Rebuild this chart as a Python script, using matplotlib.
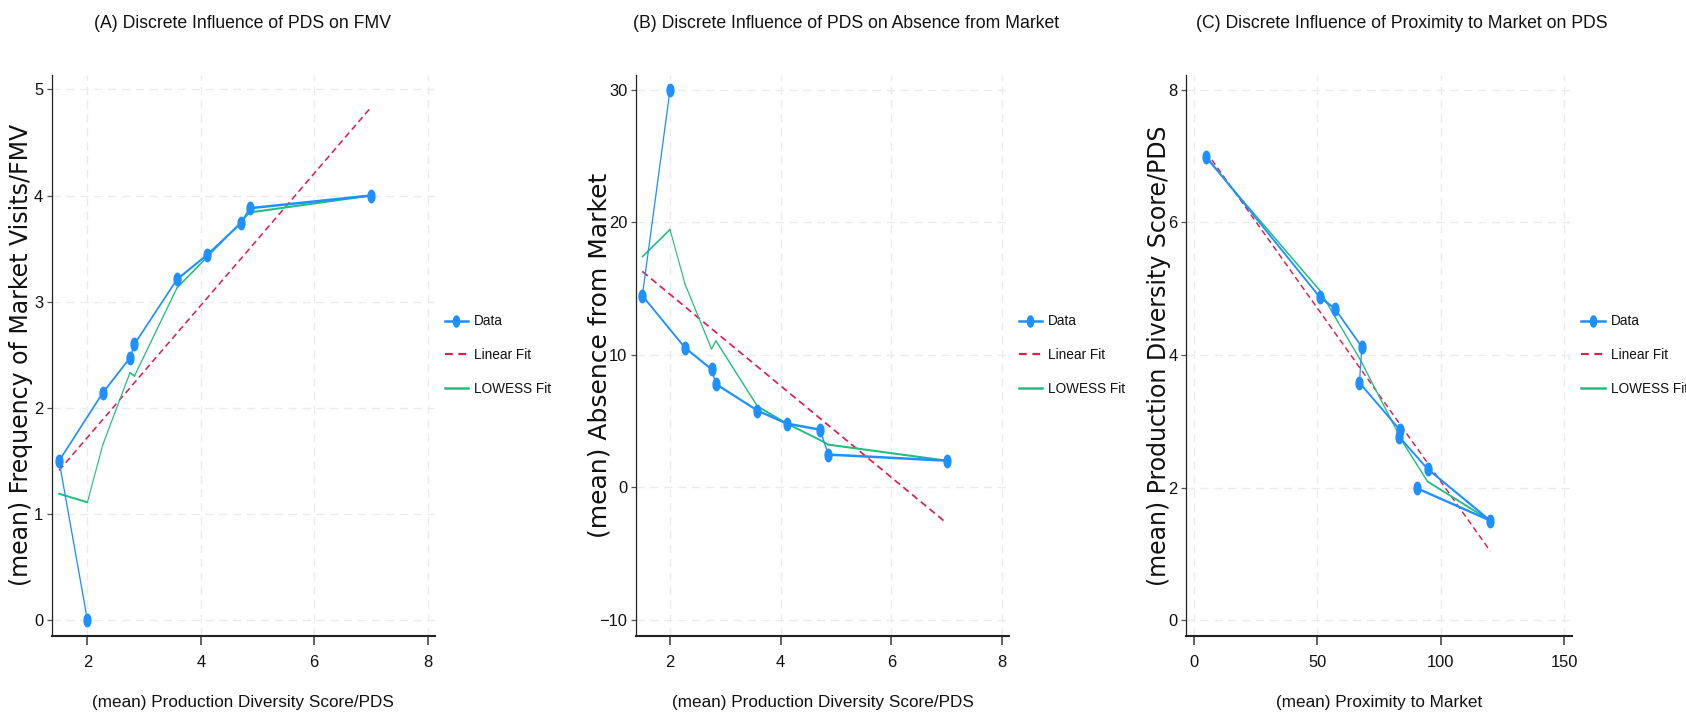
import matplotlib
matplotlib.use("Agg")
import matplotlib.pyplot as plt
import numpy as np
from matplotlib import font_manager
from matplotlib.collections import LineCollection
from matplotlib.lines import Line2D

# (A) PDS -> FMV, points in the order they are joined
pds_a = [2.0, 1.5, 2.27, 2.75, 2.83, 3.58, 4.11, 4.71, 4.86, 7.0]
fmv_a = [0.0, 1.5, 2.14, 2.47, 2.60, 3.21, 3.44, 3.74, 3.88, 4.0]
lowess_x_a = [1.5, 2.0, 2.27, 2.75, 2.83, 3.58, 4.11, 4.71, 4.86, 7.0]
lowess_y_a = [1.19, 1.11, 1.65, 2.33, 2.30, 3.13, 3.42, 3.75, 3.84, 4.0]
linfit_x_a = [1.5, 7.0]
linfit_y_a = [1.41, 4.83]

# (B) PDS -> absence from market
pds_b = [2.0, 1.5, 2.27, 2.75, 2.83, 3.58, 4.11, 4.71, 4.86, 7.0]
absence_b = [30.0, 14.47, 10.54, 8.92, 7.80, 5.80, 4.82, 4.36, 2.48, 2.02]
lowess_x_b = [1.5, 2.0, 2.27, 2.75, 2.83, 3.58, 4.11, 4.71, 4.86, 7.0]
lowess_y_b = [17.41, 19.46, 15.36, 10.45, 11.06, 6.12, 4.82, 3.58, 3.23, 2.02]
linfit_x_b = [1.5, 7.0]
linfit_y_b = [16.3, -2.7]

# (C) proximity -> PDS
prox_c = [5.0, 51.0, 57.0, 68.0, 67.0, 83.6, 83.2, 94.6, 120.0, 90.2]
pds_c = [6.99, 4.87, 4.70, 4.12, 3.58, 2.86, 2.76, 2.28, 1.50, 1.99]
lowess_x_c = [5.0, 51.0, 57.0, 67.0, 68.0, 83.2, 83.6, 90.2, 94.6, 120.0]
lowess_y_c = [6.97, 4.97, 4.58, 3.95, 3.88, 2.78, 2.74, 2.35, 2.09, 1.50]
linfit_x_c = [5.0, 120.0]
linfit_y_c = [7.06, 1.04]

titles = ["(A) Discrete Influence of PDS on FMV",
          "(B) Discrete Influence of PDS on Absence from Market",
          "(C) Discrete Influence of Proximity to Market on PDS"]
xlabels = ["(mean) Production Diversity Score/PDS",
           "(mean) Production Diversity Score/PDS",
           "(mean) Proximity to Market"]
ylabels = ["(mean) Frequency of Market Visits/FMV",
           "(mean) Absence from Market",
           "(mean) Production Diversity Score/PDS"]
legend_labels = ["Data", "Linear Fit", "LOWESS Fit"]

BLUE = "#1E90FF"
RED = "#DC1F52"
GREEN = "#1FBF7F"
SQ = 0.5  # the reference looks squeezed sideways; steep lines come out thinner

installed = {f.name for f in font_manager.fontManager.ttflist}
if "Liberation Sans Narrow" in installed:
    NARROW, k = "Liberation Sans Narrow", 1.0
else:
    NARROW, k = "Liberation Sans", 0.82

th = np.linspace(0, 2 * np.pi, 41)
ELL = np.column_stack([0.55 * np.cos(th), np.sin(th)])


def squeezed(ax, x, y, color, lw, ls="-", z=2):
    x = np.asarray(x, float)
    y = np.asarray(y, float)
    pts = ax.transData.transform(np.column_stack([x, y]))
    d = np.diff(pts, axis=0)
    dx = np.where(np.abs(d[:, 0]) < 1e-9, 1e-9, d[:, 0])
    t2 = (d[:, 1] / dx) ** 2
    widths = lw * np.sqrt((1 + SQ ** 2 * t2) / (1 + t2))
    segs = np.stack([np.column_stack([x[:-1], y[:-1]]),
                     np.column_stack([x[1:], y[1:]])], axis=1)
    cap = "round" if ls == "-" else "butt"
    ax.add_collection(LineCollection(segs, colors=color, linewidths=widths,
                                     linestyles=ls, capstyle=cap, zorder=z))


fig = plt.figure(figsize=(16.86, 7.22), dpi=100)
W, H = 1686.0, 722.0

# pixel boxes: left, right ; top/bottom shared
boxes = [(51.7, 435.0), (635.7, 1009.3), (1186.3, 1571.8)]
top, bottom = 74.5, 636.0
xlims = [(1.37, 8.13), (1.38, 8.13), (-3.1, 153.0)]
ylims = [(-0.15, 5.14), (-11.21, 31.16), (-0.24, 8.23)]
xticks = [[2, 4, 6, 8], [2, 4, 6, 8], [0, 50, 100, 150]]
yticks = [[0, 1, 2, 3, 4, 5], [-10, 0, 10, 20, 30], [0, 2, 4, 6, 8]]
ylab_x = [21.5, 599.5, 1159.0]
ylab_size = [17.0, 18.0, 17.0]
title_x = [242.0, 846.0, 1402.0]

panels = [
    (pds_a, fmv_a, lowess_x_a, lowess_y_a, linfit_x_a, linfit_y_a),
    (pds_b, absence_b, lowess_x_b, lowess_y_b, linfit_x_b, linfit_y_b),
    (prox_c, pds_c, lowess_x_c, lowess_y_c, linfit_x_c, linfit_y_c),
]

for i, (dx, dy, lx, ly, fx, fy) in enumerate(panels):
    l, r = boxes[i]
    ax = fig.add_axes([l / W, 1 - bottom / H, (r - l) / W, (bottom - top) / H])
    ax.set_xlim(*xlims[i])
    ax.set_ylim(*ylims[i])
    ax.set_xticks(xticks[i])
    ax.set_yticks(yticks[i])
    ax.grid(True, color="#ebebeb", ls=(0, (6, 4)), lw=1.0, zorder=0)
    ax.set_axisbelow(True)
    for s in ["top", "right"]:
        ax.spines[s].set_visible(False)
    ax.spines["bottom"].set_linewidth(1.5)
    ax.spines["left"].set_linewidth(0.9)
    ax.spines["bottom"].set_color("#222222")
    ax.spines["left"].set_color("#222222")
    ax.tick_params(axis="x", length=6.5, width=1.3, color="#555555", pad=7,
                   labelsize=14.5 * k, labelcolor="#111111")
    ax.tick_params(axis="y", length=3.6, width=0.9, color="#555555", pad=2.5,
                   labelsize=14.5 * k, labelcolor="#111111")
    for lab in ax.get_xticklabels() + ax.get_yticklabels():
        lab.set_fontfamily(NARROW)

    squeezed(ax, fx, fy, RED, 1.5, ls=(0, (4, 2.5)), z=2)
    squeezed(ax, lx, ly, GREEN, 1.5, z=3)
    squeezed(ax, dx, dy, BLUE, 1.8, z=4)
    ax.plot(dx, dy, ls="none", marker=ELL, ms=9, color=BLUE, zorder=5)

    ax.set_xlabel(xlabels[i], fontsize=15 * k, family=NARROW, va="center",
                  color="#111111")
    ax.xaxis.set_label_coords(0.5, (bottom - 703.0) / (bottom - top))
    ax.set_ylabel(ylabels[i], fontsize=ylab_size[i], family="DejaVu Sans",
                  va="center", color="#111111")
    ax.yaxis.set_label_coords((ylab_x[i] - l) / (r - l), 0.5)

    fig.text(title_x[i] / W, 1 - 23.7 / H, titles[i], ha="center", va="center",
             fontsize=15.5 * k, family=NARROW, color="#111111")

    handles = [
        Line2D([], [], color=BLUE, lw=1.8, marker=ELL, ms=8),
        Line2D([], [], color=RED, lw=1.6, ls=(0, (3.5, 2.5))),
        Line2D([], [], color=GREEN, lw=1.8),
    ]
    leg = ax.legend(handles, legend_labels, loc="center left",
                    bbox_to_anchor=(1 + 9.5 / (r - l), 0.5), frameon=False,
                    borderaxespad=0, borderpad=0, handlelength=1.7,
                    handletextpad=0.45, labelspacing=1.45,
                    prop={"family": NARROW, "size": 12 * k})
    for t in leg.get_texts():
        t.set_color("#111111")

fig.savefig("out.png", dpi=100)
